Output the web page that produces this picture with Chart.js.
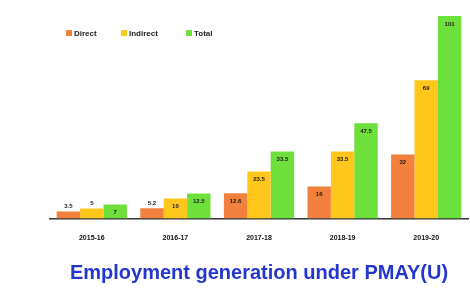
<!DOCTYPE html>
<html>
<head>
<meta charset="utf-8">
<script src="https://cdn.jsdelivr.net/npm/chart.js@4.4.1/dist/chart.umd.min.js"></script>
<style>
  html, body { margin: 0; padding: 0; background: #fff; }
  #wrap { width: 470px; height: 288px; }
</style>
</head>
<body>
<div id="wrap"><canvas id="chart" width="470" height="288"></canvas></div>
<script>
'use strict';

// ── Data ────────────────────────────────────────────
const years    = ['2015-16', '2016-17', '2017-18', '2018-19', '2019-20'];
const direct   = [3.5, 5.2, 12.6, 16.0, 32];
const indirect = [5.0, 10.0, 23.5, 33.5, 69];
const total    = [7.0, 12.5, 33.5, 47.5, 101];

const SERIES_NAMES  = ['Direct', 'Indirect', 'Total'];
const SERIES_COLORS = ['#F2813D', '#FFC61C', '#6EE03C'];

// Value labels drawn at the top of each bar
const barLabels = {
  id: 'barLabels',
  afterDatasetsDraw(chart) {
    const { ctx } = chart;
    ctx.save();
    ctx.font = 'bold 6px "Liberation Sans", Arial, sans-serif';
    ctx.fillStyle = '#1a1a1a';
    ctx.textAlign = 'center';
    ctx.textBaseline = 'middle';
    chart.data.datasets.forEach((ds, i) => {
      chart.getDatasetMeta(i).data.forEach((bar, j) => {
        const h = bar.base - bar.y;
        const y = h > 14 ? bar.y + 8 : bar.y - 5;
        ctx.fillText(String(ds.data[j]), bar.x, y);
      });
    });
    ctx.restore();
  }
};

// Legend drawn inside the plot, top-left
const insideLegend = {
  id: 'insideLegend',
  afterDraw(chart) {
    const { ctx } = chart;
    const xs = [66, 121, 186];
    ctx.save();
    ctx.font = 'bold 8px "Liberation Sans", Arial, sans-serif';
    ctx.textBaseline = 'middle';
    SERIES_NAMES.forEach((name, i) => {
      ctx.fillStyle = SERIES_COLORS[i];
      ctx.fillRect(xs[i], 30, 6, 6);
      ctx.fillStyle = '#222';
      ctx.fillText(name, xs[i] + 8, 33.5);
    });
    ctx.restore();
  }
};

const series = [direct, indirect, total];

new Chart(document.getElementById('chart'), {
  type: 'bar',
  data: {
    labels: years,
    datasets: series.map((data, i) => ({
      label: SERIES_NAMES[i],
      data,
      backgroundColor: SERIES_COLORS[i],
      borderWidth: 0,
      categoryPercentage: 0.84,
      barPercentage: 1.0,
    })),
  },
  options: {
    responsive: false,
    animation: false,
    layout: { padding: { left: 50, right: 2, top: 10, bottom: 0 } },
    plugins: {
      legend: { display: false },
      tooltip: { enabled: false },
      title: {
        display: true,
        position: 'bottom',
        text: 'Employment generation under PMAY(U)',
        color: '#2336D0',
        font: { family: '"Liberation Sans", Arial, sans-serif', size: 20, weight: 'bold' },
        padding: { top: 4, bottom: 3 },
      },
    },
    scales: {
      x: {
        grid: { display: false, drawTicks: false },
        border: { display: true, color: '#333', width: 1.5 },
        ticks: {
          color: '#111',
          padding: 15,
          font: { family: '"Liberation Sans", Arial, sans-serif', size: 7, weight: 'bold' },
        },
      },
      y: {
        display: false,
        min: 0,
        max: 104,
      },
    },
  },
  plugins: [barLabels, insideLegend],
});
</script>
</body>
</html>
